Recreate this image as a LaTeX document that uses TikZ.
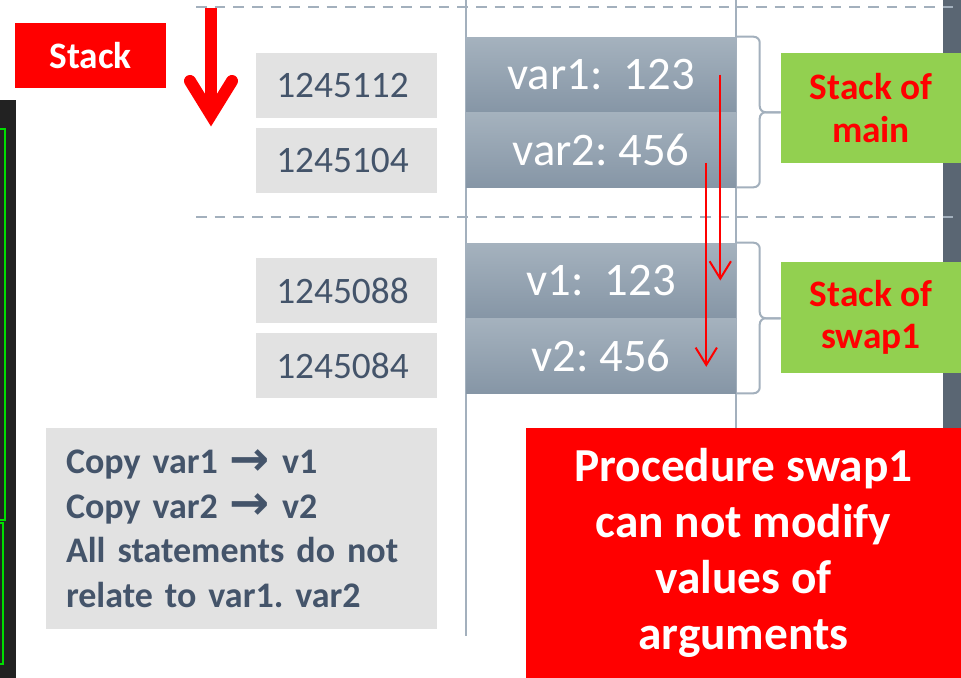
\documentclass[tikz,border=0pt]{standalone}
\usepackage{fontspec}
\setmainfont{Carlito}
\newfontfamily\symfont{DejaVu Sans}
\usepackage{xcolor}
\usepackage{tikz}
\usetikzlibrary{positioning, arrows.meta, calc}

\definecolor{slatetext}{HTML}{44546A}
\definecolor{boxgray}{HTML}{E2E2E2}
\definecolor{cellTop}{HTML}{A5B2BE}
\definecolor{cellBot}{HTML}{8696A6}
\definecolor{frameline}{HTML}{A3B0BD}
\definecolor{leafgreen}{HTML}{92D050}
\definecolor{panel}{HTML}{222222}
\definecolor{sidebar}{HTML}{5A6673}
\definecolor{termgreen}{HTML}{00DD00}

\newcommand{\rarr}{{\symfont\bfseries\fontsize{36}{36}\selectfont\raisebox{-1pt}{→}}}
\frenchspacing

\begin{document}
\begin{tikzpicture}[x=0.75pt, y=-0.75pt,
  tag/.style={inner sep=0pt, font=\fontsize{28}{32}\selectfont\bfseries},
  addr/.style={fill=boxgray, text=slatetext, minimum width=135.75pt, minimum height=48.75pt, font=\fontsize{28}{32}\selectfont},
  cell/.style={top color=cellTop, bottom color=cellBot, text=white, inner sep=0pt,
    minimum width=202.5pt, minimum height=56.25pt, font=\fontsize{35}{40}\selectfont},
  note/.style={fill=boxgray, text=slatetext, align=left, text width=263.25pt, inner xsep=15pt,
    minimum height=150.75pt, font=\fontsize{27}{33.4}\selectfont\bfseries},
  warn/.style={fill=red, text=white, align=center, minimum width=326.25pt, minimum height=187.5pt,
    font=\fontsize{35.5}{42}\selectfont\bfseries},
  guide/.style={frameline, line width=1.8pt, dash pattern=on 8pt off 6pt},
  frame/.style={frameline, line width=1.5pt},
  brace/.style={frameline, line width=1.5pt, rounded corners=4.5pt},
  arrow/.style={red, line width=1.5pt, -{Straight Barb[length=13pt, width=16pt]}}
]
\useasboundingbox (0,0) rectangle (961,678);
\fill[white] (0,0) rectangle (961,678);

% side panels
\fill[panel] (0,100) rectangle (16,678);
\draw[termgreen, line width=1.5pt] (0,129) -| (5,520) -- (0,520);
\draw[termgreen, line width=1.5pt] (0,523) -| (3,664) -- (0,664);
\fill[sidebar] (943,0) rectangle (961,428);

% frame of the memory column
\draw[guide] (196,7) -- (961,7);
\draw[guide] (196,217) -- (961,217);
\draw[frame] (466,0) -- (466,636);
\draw[frame] (736,0) -- (736,678);

\node[tag, fill=red, text=white, minimum width=113.25pt, minimum height=48.75pt] (stk) at (90.5,55.5) {Stack};

% growth direction
\coordinate (growTop) at (211,8);
\coordinate (growTip) at (211,115);
\draw[red, line width=9pt] (growTop) -- (growTip);
\draw[red, line width=9pt, line cap=round, line join=miter]
  ($(growTip)+(-21,-34)$) -- (growTip) -- ($(growTip)+(21,-34)$);

% addresses
\node[addr] (a1) at (346.5,85.5) {1245112\hspace*{6pt}};
\node[addr] (a2) at (346.5,160.5) {1245104\hspace*{6pt}};
\node[addr] (a3) at (346.5,290.5) {1245088\hspace*{6pt}};
\node[addr] (a4) at (346.5,365.5) {1245084\hspace*{6pt}};

% stack cells
\node[cell] (var1) at (601,74.5) {var1:\ \ 123};
\node[cell] (var2) at (601,149.5) {var2: 456};
\node[cell] (v1) at (601,280.5) {v1:\ \ 123};
\node[cell] (v2) at (601,355.5) {v2: 456};

% frames of main and swap1
\node[tag, fill=leafgreen, text=red, align=center, minimum width=135pt, minimum height=82.5pt] (mainlbl) at (871,108) {Stack of\\main};
\node[tag, fill=leafgreen, text=red, align=center, minimum width=135pt, minimum height=83.25pt] (swaplbl) at (871,317.5) {Stack of\\swap1};

\coordinate (mainTip) at (mainlbl.west |- var1.south east);
\coordinate (mainKnee) at ([xshift=-15.75pt]mainTip);
\draw[brace] (var1.north east) -| (mainKnee) -- (mainTip);
\draw[brace] (var2.south east) -| (mainKnee) -- (mainTip);

\coordinate (swapTip) at (swaplbl.west |- v1.south east);
\coordinate (swapKnee) at ([xshift=-15.75pt]swapTip);
\draw[brace] (v1.north east) -| (swapKnee) -- (swapTip);
\draw[brace] (v2.south east) -| (swapKnee) -- (swapTip);

% copies of the arguments
\draw[arrow] ([xshift=-12pt]var1.east) -- ([xshift=-12pt]v1.east);
\draw[arrow] ([shift={(-22.5pt,-10pt)}]var2.east) -- ([shift={(-22.5pt,-8.5pt)}]v2.east);

\node[note] (note) at (241.5,528.5) {Copy var1 \rarr{} v1\\Copy var2 \rarr{} v2\\All statements do not\\relate to var1. var2};

\node[warn] (warn) at (743.5,553) {Procedure swap1\\can not modify\\values of\\arguments};
\end{tikzpicture}
\end{document}
